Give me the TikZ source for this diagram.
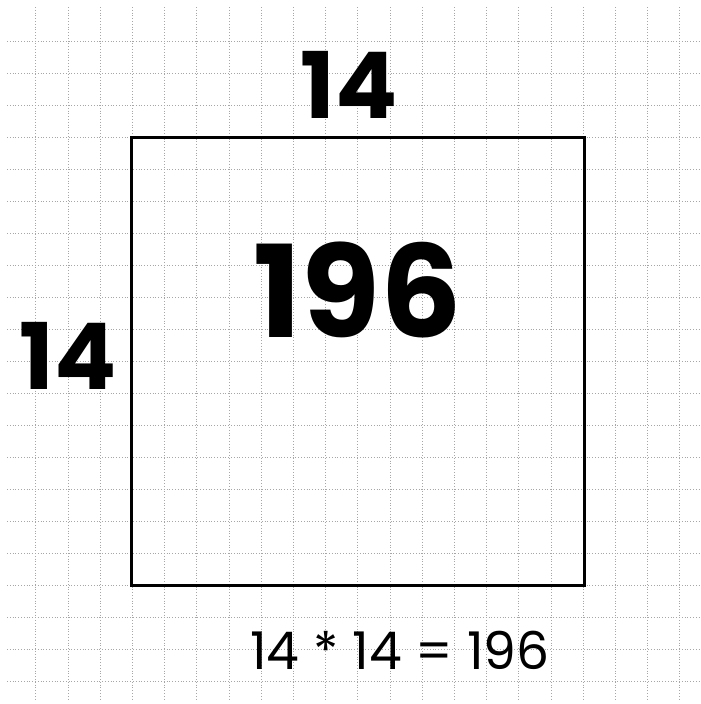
\documentclass[tikz,border=0pt]{standalone}
\usepackage{fontspec}
\setmainfont{Poppins}
\usepackage{xcolor}
\usetikzlibrary{positioning}

\begin{document}
\begin{tikzpicture}[x=1pt,y=-1pt]
            \useasboundingbox (0,0) rectangle (701,704);

            % squared paper
            \foreach \i in {0,...,20} {
                \draw[gray!70, dotted, line width=0.8pt] ({35.7+32.2*\i},7) -- ({35.7+32.2*\i},700);
                \draw[gray!70, dotted, line width=0.8pt] (7,{41.7+32*\i}) -- (700,{41.7+32*\i});
            }

            \node[draw, line width=3pt, minimum width=453pt, minimum height=448pt, inner sep=0pt] (square) at (357.5,361) {};

            \node[font=\fontsize{92}{92}\selectfont\bfseries] (top) at (349,85) {14};
            \node[font=\fontsize{92}{92}\selectfont\bfseries] (left) at (68,356) {14};
            \node[font=\fontsize{128}{128}\selectfont\bfseries] (area) at (358,290) {196};
            \node[font=\fontsize{52}{52}\selectfont] (sum) at (400,650) {14 * 14 = 196};

        \end{tikzpicture}
\end{document}
